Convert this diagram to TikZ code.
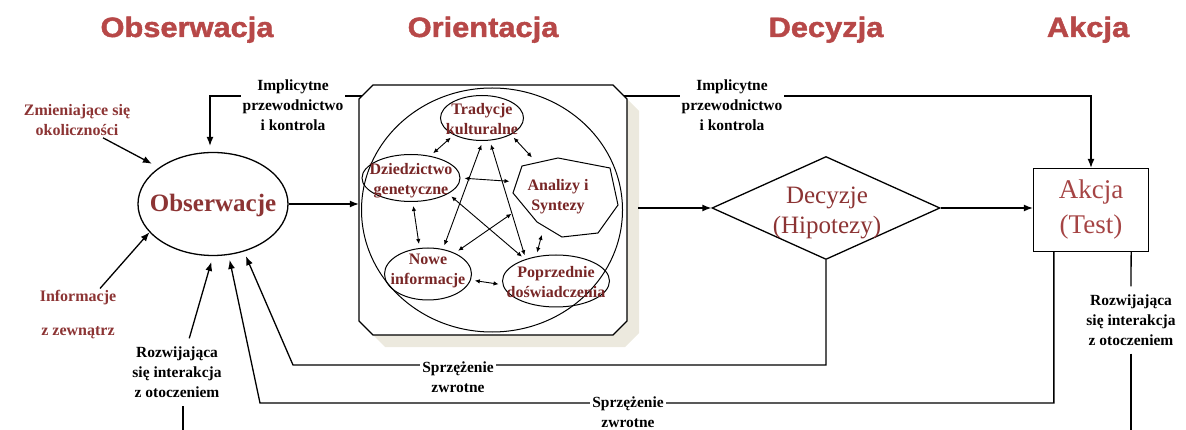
\documentclass[tikz,border=0pt]{standalone}
\usepackage{fontspec}
\setmainfont{Liberation Serif}
\newfontfamily\titlefont{Liberation Sans Bold}[FakeStretch=1.1,FakeBold=1.6]
\usetikzlibrary{arrows.meta,shapes.geometric,positioning}

\definecolor{tytul}{RGB}{183,72,72}
\definecolor{ceglasty}{RGB}{140,52,52}
\definecolor{akcjakol}{RGB}{165,68,68}
\definecolor{ciemnyczerw}{RGB}{120,38,38}
\definecolor{cien}{RGB}{236,233,222}

\tikzset{
  arr/.style={-{Latex[length=9pt,width=7pt]}, line width=1.3pt},
  linia/.style={line width=1.3pt},
  dbl/.style={{Latex[length=5pt,width=4.5pt]}-{Latex[length=5pt,width=4.5pt]}, line width=0.9pt, shorten <=4pt, shorten >=4pt},
  tytulek/.style={font=\titlefont\fontsize{28}{32}\selectfont, text=tytul},
  etyk/.style={font=\bfseries\fontsize{15.5}{20}\selectfont, align=center, fill=white, inner sep=2pt},
  czerw/.style={font=\bfseries\fontsize{16}{20}\selectfont, align=center, text=ceglasty, inner sep=2pt},
  wew/.style={font=\bfseries\fontsize{16}{20}\selectfont, align=center, text=ciemnyczerw, inner sep=0pt},
  owal/.style={draw, ellipse, line width=1pt, inner sep=0pt},
}

\begin{document}
\begin{tikzpicture}[x=1pt,y=-1pt]
\useasboundingbox (0,0) rectangle (1186,430);

% tytuly
\node[tytulek, anchor=base] (tObs) at (187,37) {Obserwacja};
\node[tytulek, anchor=base] (tOri) at (483,37) {Orientacja};
\node[tytulek, anchor=base] (tDec) at (826,37) {Decyzja};
\node[tytulek, anchor=base] (tAkc) at (1088,37) {Akcja};

% obserwacja
\node[owal, line width=1.3pt, minimum width=150pt, minimum height=103pt] (obs) at (213,204) {};
\node[font=\bfseries\fontsize{25}{30}\selectfont, text=ceglasty] (obsT) at (213,205) {Obserwacje};

\node[czerw] (zmi) at (77,120) {Zmieniające się\\okoliczności};
\node[czerw, font=\bfseries\fontsize{16}{34}\selectfont] (inf) at (78,315) {Informacje\\z zewnątrz};
\draw[arr, shorten >=8pt] ([xshift=26pt]zmi.south) -- (obs.146);
\draw[arr] ([xshift=22pt]inf.north) -- (obs.204);

% orientacja - osmiokat z cieniem
\fill[cien] (385,97) -- (625,97) -- (639,111) -- (639,333) -- (625,347) -- (385,347) -- (371,333) -- (371,111) -- cycle;
\draw[fill=white, line width=1.3pt] (373,85) -- (613,85) -- (627,99) -- (627,321) -- (613,335)
  -- (373,335) -- (359,321) -- (359,99) -- cycle;
\node[minimum width=268pt, minimum height=250pt, inner sep=0pt] (oct) at (493,210) {};
\coordinate (octL) at (362,96);
\coordinate (octR) at (624,96);
\node[owal, minimum width=261pt, minimum height=244pt] (krag) at (492,210) {};

\node[owal, minimum width=83pt, minimum height=45pt] (trad) at (482,118) {};
\node[wew] (tradT) at (482,119) {Tradycje\\kulturalne};
\node[owal, minimum width=98pt, minimum height=47pt] (dzie) at (411,178) {};
\node[wew] (dzieT) at (411,181) {Dziedzictwo\\genetyczne};
\node[owal, minimum width=87pt, minimum height=52pt] (nowe) at (428,274) {};
\node[wew] (noweT) at (428,271) {Nowe\\informacje};
\node[owal, minimum width=107pt, minimum height=52pt] (popr) at (556,281) {};
\node[wew] (poprT) at (556,282) {Poprzednie\\doświadczenia};
% analizy i syntezy
\draw[line width=1pt] (522,166) -- (558,158) -- (610,168) -- (618,205) -- (598,233)
  -- (562,237) -- (537,222) -- (513,193) -- cycle;
\node[ellipse, minimum width=96pt, minimum height=74pt, inner sep=0pt] (anal) at (565,198) {};
\node[wew] (analT) at (558,197) {Analizy i\\Syntezy};

\draw[dbl] (trad.211) -- (dzie.49);
\draw[dbl, shorten >=12pt] (trad.330) -- (anal.128);
\draw[dbl, shorten >=12pt] (dzie.0) -- (anal.160);
\draw[dbl] (dzie.274) -- (nowe.108);
\draw[dbl] (trad.272) -- (nowe.59);
\draw[dbl] (trad.289) -- (popr.144);
\draw[dbl] (dzie.337) -- (popr.145);
\draw[dbl, shorten <=9pt] (anal.193) -- (nowe.38);
\draw[dbl] (anal.236) -- (popr.129);
\draw[dbl] (nowe.352) -- (popr.184);

% decyzja i akcja
\node[diamond, draw, line width=1.3pt, minimum width=228pt, minimum height=103pt, inner sep=0pt] (dec) at (826,208) {};
\node[font=\fontsize{25}{30}\selectfont, text=ceglasty, align=center] (decT) at (827,213) {Decyzje\\(Hipotezy)};
\node[draw, line width=1.3pt, minimum width=115pt, minimum height=83pt,
      font=\fontsize{27}{35}\selectfont, text=akcjakol, align=center] (act) at (1091,210) {Akcja\\(Test)};

\draw[arr] (obs.east) -- (obs.east -| oct.west);
\draw[arr, shorten <=11pt] (oct.east |- dec.west) -- (dec.west);
\draw[arr] (dec.east) -- (dec.east -| act.west);

% implicytne przewodnictwo
\draw[arr, shorten >=6pt] (octL) -| ([xshift=-3pt]obs.north);
\node[etyk] (implL) at (293,105) {Implicytne\\przewodnictwo\\i kontrola};
\draw[arr] (octR) -| (act.north);
\node[etyk] (implR) at (732,105) {Implicytne\\przewodnictwo\\i kontrola};

% sprzezenia zwrotne
\coordinate (fb1) at (293,365);
\draw[arr, shorten >=5pt] (dec.south) |- (fb1) -- (obs.303);
\node[etyk] (sprz1) at (458,377) {Sprzężenie\\zwrotne};
\coordinate (fb2) at (260,403);
\draw[arr, shorten >=5pt] ([xshift=21pt]act.south west) |- (fb2) -- (obs.287);
\node[etyk] (sprz2) at (628,412) {Sprzężenie\\zwrotne};

% interakcja z otoczeniem
\node[etyk, inner ysep=8pt] (rozR) at (1131,320) {Rozwijająca\\się interakcja\\z otoczeniem};
\coordinate (dolR) at (1131,430);
\draw[linia] ([xshift=-18pt]act.south east) -- (rozR.north);
\draw[linia] (rozR.south) -- (dolR);
\node[etyk, inner ysep=8pt] (rozL) at (177,372) {Rozwijająca\\się interakcja\\z otoczeniem};
\coordinate (dolL) at (183,430);
\draw[linia] (dolL) -- (dolL |- rozL.south);
\draw[arr, shorten >=6pt] (rozL.70) -- (obs.south);
\end{tikzpicture}
\end{document}
